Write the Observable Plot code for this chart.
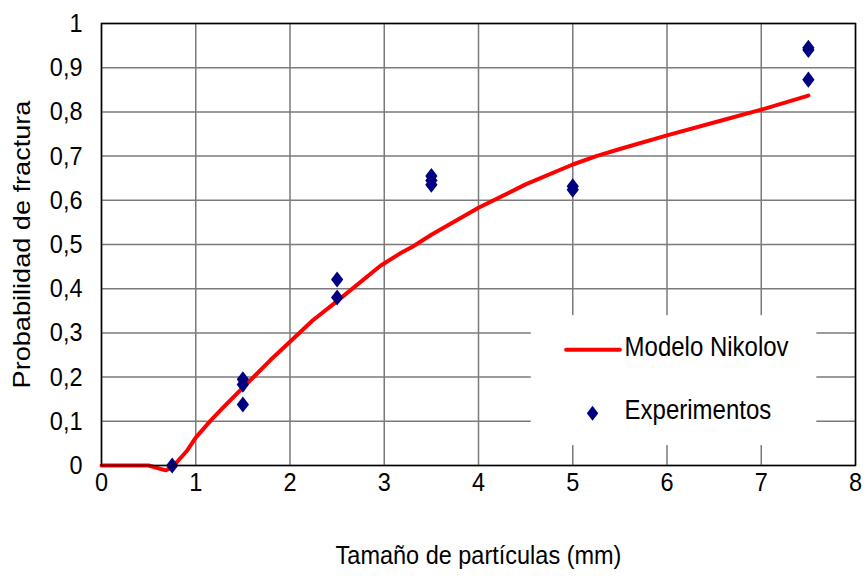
<!DOCTYPE html>
<html>
<head>
<meta charset="utf-8">
<script src="https://cdn.jsdelivr.net/npm/d3@7"></script>
<script src="https://cdn.jsdelivr.net/npm/@observablehq/plot@0.6"></script>
<style>
  html, body { margin: 0; padding: 0; background: #fff; }
</style>
</head>
<body>
<div id="chart"></div>
<script>
// Nikolov model curve: fracture probability vs particle size (mm)
const modelX = [0, 0.5, 0.68, 0.75, 0.91, 1.0, 1.16, 1.3, 1.5, 1.79, 2.0, 2.24, 2.5, 2.96, 3.17, 3.3, 3.5, 4.0, 4.5, 5.0, 5.25, 5.5, 6.0, 6.5, 7.0, 7.5];
const modelY = [0, 0, -0.011, -0.004, 0.034, 0.063, 0.102, 0.133, 0.176, 0.238, 0.28, 0.328, 0.372, 0.452, 0.48, 0.495, 0.522, 0.583, 0.636, 0.681, 0.7, 0.716, 0.747, 0.776, 0.805, 0.837];

// Experimental measurements
const expX = [0.75, 1.5, 1.5, 1.5, 2.5, 2.5, 3.5, 3.5, 3.5, 5, 5, 7.5, 7.5, 7.5];
const expY = [0, 0.195, 0.183, 0.138, 0.421, 0.38, 0.655, 0.645, 0.635, 0.632, 0.624, 0.945, 0.94, 0.873];

// Axis ticks and labels
const xTicks = [0, 1, 2, 3, 4, 5, 6, 7, 8];
const yTicks = [0, 0.1, 0.2, 0.3, 0.4, 0.5, 0.6, 0.7, 0.8, 0.9, 1];
const xLabel = "Tamaño de partículas (mm)";
const yLabel = "Probabilidad de fractura";
const seriesNames = ["Modelo Nikolov", "Experimentos"];

const model = modelX.map((x, i) => ({x, y: modelY[i]}));
const experiments = expX.map((x, i) => ({x, y: expY[i]}));

// Legend placement, in data units inside the plot area
const legendBox = {x1: 4.56, x2: 7.59, y1: 0.045, y2: 0.339};
const legendLine = [{x: 4.93, y: 0.262}, {x: 5.5, y: 0.262}];
const legendDot = [{x: 5.21, y: 0.118}];
const legendText = [
  {x: 5.55, y: 0.268, label: seriesNames[0]},
  {x: 5.55, y: 0.124, label: seriesNames[1]}
];

// Filled diamond, a little wider than d3's symbolDiamond
const diamond = {
  draw(ctx, size) {
    const r = Math.sqrt(size / Math.PI);
    const h = r * 1.07, w = r * 0.82;
    ctx.moveTo(0, -h);
    ctx.lineTo(w, 0);
    ctx.lineTo(0, h);
    ctx.lineTo(-w, 0);
    ctx.closePath();
  }
};

const commaFmt = d => d3.format(".1~f")(d).replace(".", ",");
const navy = "#000080";
const red = "#ff0000";

const chart = Plot.plot({
  width: 866,
  height: 579,
  marginLeft: 101,
  marginRight: 11,
  marginTop: 23,
  marginBottom: 114,
  style: {
    fontFamily: "'Liberation Sans', Arial, sans-serif",
    fontSize: "23px",
    color: "#000",
    background: "#fff",
    overflow: "visible"
  },
  x: {domain: [0, 8]},
  y: {domain: [0, 1]},
  marks: [
    Plot.gridX(xTicks, {stroke: "#7a7a7a", strokeOpacity: 1, strokeWidth: 1.5}),
    Plot.gridY(yTicks, {stroke: "#7a7a7a", strokeOpacity: 1, strokeWidth: 1.5}),
    Plot.axisX(xTicks, {tickSize: 0, tickPadding: 7, tickFormat: d => String(d), label: null, fontSize: 23.5}),
    Plot.axisY(yTicks, {tickSize: 0, tickPadding: 19, tickFormat: commaFmt, label: null, fontSize: 23.5}),
    // legend background
    Plot.rect([legendBox], {x1: "x1", x2: "x2", y1: "y1", y2: "y2", fill: "#fff"}),
    Plot.line(model, {x: "x", y: "y", stroke: red, strokeWidth: 4, curve: "linear"}),
    Plot.dot(experiments, {x: "x", y: "y", symbol: diamond, r: 7.5, fill: navy, stroke: "none"}),
    // legend entries
    Plot.line(legendLine, {x: "x", y: "y", stroke: red, strokeWidth: 4}),
    Plot.dot(legendDot, {x: "x", y: "y", symbol: diamond, r: 7, fill: navy, stroke: "none"}),
    Plot.text(legendText, {x: "x", y: "y", text: "label", textAnchor: "start", fontSize: 24, fill: "#000"}),
    Plot.frame({stroke: "#000", strokeWidth: 1.5}),
    // axis titles
    Plot.text([xLabel], {frameAnchor: "bottom", dy: 98, fontSize: 23.5, fill: "#000"}),
    Plot.text([yLabel], {frameAnchor: "left", dx: -79, rotate: -90, textAnchor: "middle", fontSize: 24, fill: "#000"})
  ]
});

// Slightly tall lettering: stretch every label vertically on screen
d3.select(chart).selectAll("text").each(function() {
  const t = this.getAttribute("transform") || "";
  const rotated = /rotate\(/.test(t);
  this.setAttribute("transform", t + (rotated ? " scale(1.13,1)" : " scale(1,1.12)"));
});

document.getElementById("chart").append(chart);
</script>
</body>
</html>
